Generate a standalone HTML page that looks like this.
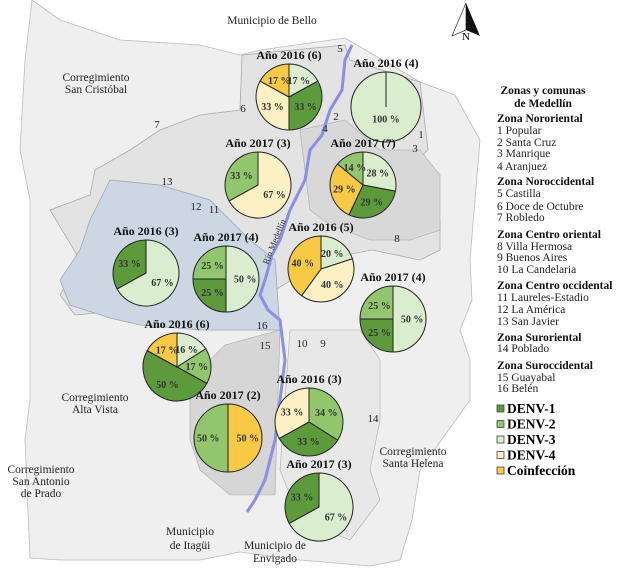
<!DOCTYPE html>
<html><head><meta charset="utf-8"><style>
html,body{margin:0;padding:0;background:#fff;}
svg{display:block;font-family:"Liberation Serif",serif;}
.t{font-weight:bold;font-size:12px;text-anchor:middle;fill:#111;}
.p{font-size:10px;font-weight:bold;text-anchor:middle;fill:#333;}
.l{font-size:11.5px;fill:#222;}
.lb{font-size:11.5px;font-weight:bold;fill:#111;}
.m{font-size:11.5px;fill:#222;text-anchor:middle;}
.n{font-size:11px;fill:#222;text-anchor:middle;}
</style></head><body>
<svg id="map" width="617" height="576" viewBox="0 0 617 576">
<rect width="617" height="576" fill="#fff"/>
<g>
<path d="M32,0 L60,20 L120,40 L200,45 L240,55 L260,50 L345,38 L420,82 L455,95 L480,140 L470,260 L472,300 L460,330 L470,360 L470,400 L420,470 L412,520 L400,560 L370,566 L300,560 L240,552 L200,560 L60,560 L30,558 L25,440 L30,400 L30,300 L30,200 L20,150 L25,60 Z" fill="#efefef" stroke="#bbb" stroke-width="0.8"/>
<path d="M242,55 L345,45 L350,60 L420,82 L428,150 L400,175 L440,220 L440,250 L420,260 L372,250 L320,260 L300,275 L275,290 L240,300 L200,305 L130,310 L75,315 L60,295 L80,260 L50,210 L90,195 L95,170 L130,150 L160,130 L200,115 L240,110 Z" fill="#e3e3e3" stroke="#aaa" stroke-width="0.8"/>
<path d="M300,130 L345,120 L380,150 L420,150 L440,175 L440,230 L410,240 L370,240 L330,225 L310,210 Z" fill="#d8d8d8" stroke="#aaa" stroke-width="0.6"/>
<path d="M110,180 L160,185 L210,200 L250,240 L275,260 L280,330 L200,330 L140,325 L110,318 L70,305 L60,280 L80,250 L90,220 Z" fill="#cdd6e3" stroke="#9aa6b8" stroke-width="0.8"/>
<path d="M190,395 L180,390 L225,345 L280,330 L275,495 L230,495 L200,470 L190,440 Z" fill="#d6d6d6" stroke="#aaa" stroke-width="0.6"/>
<path d="M290,330 L360,330 L380,360 L380,420 L370,470 L380,500 L350,540 L300,520 L280,470 L285,400 Z" fill="#e8e8e8" stroke="#aaa" stroke-width="0.6"/>
</g>
<polyline points="352,45 345,60 342,90 330,110 322,135 310,150 305,180 290,210 280,240 272,255 265,280 260,295 268,310 280,320 285,360 280,400 275,440 265,480 255,500 247,512" fill="none" stroke="#8a8ee8" stroke-width="3"/>
<text x="268" y="265" font-size="9" fill="#333" transform="rotate(-68 268 265)">Río Medellín</text>
<g>
<text class="m" x="272" y="24">Municipio de Bello</text>
<text class="m" x="96" y="81">Corregimiento</text><text class="m" x="96" y="93">San Cristóbal</text>
<text class="m" x="95" y="401">Corregimiento</text><text class="m" x="95" y="413">Alta Vista</text>
<text class="m" x="41" y="473">Corregimiento</text><text class="m" x="41" y="485">San Antonio</text><text class="m" x="41" y="497">de Prado</text>
<text class="m" x="190" y="535">Municipio</text><text class="m" x="190" y="549">de Itagüi</text>
<text class="m" x="275" y="549">Municipio de</text><text class="m" x="275" y="562">Envigado</text>
<text class="m" x="413" y="455">Corregimiento</text><text class="m" x="413" y="467">Santa Helena</text>
<text class="n" x="340" y="52">5</text><text class="n" x="243" y="112">6</text><text class="n" x="157" y="128">7</text>
<text class="n" x="336" y="120">2</text><text class="n" x="325" y="132">4</text><text class="n" x="421" y="138">1</text><text class="n" x="415" y="152">3</text>
<text class="n" x="167" y="185">13</text><text class="n" x="196" y="210">12</text><text class="n" x="214" y="213">11</text>
<text class="n" x="397" y="242">8</text><text class="n" x="262" y="329">16</text><text class="n" x="265" y="349">15</text>
<text class="n" x="302" y="347">10</text><text class="n" x="323" y="347">9</text><text class="n" x="373" y="422">14</text>
</g>
<g>
<polygon points="466,3 452,36 466,30" fill="#fff" stroke="#333" stroke-width="0.7"/>
<polygon points="466,3 480,36 466,30" fill="#111"/>
<text x="466" y="40" font-size="11" text-anchor="middle">N</text>
</g>
<g id="pies"></g>
<g>
<text class="lb" x="543" y="94" text-anchor="middle">Zonas y comunas</text>
<text class="lb" x="543" y="107" text-anchor="middle">de Medellín</text>
<text class="lb" x="497" y="122">Zona Nororiental</text>
<text class="l" x="497" y="134">1 Popular</text><text class="l" x="497" y="146">2 Santa Cruz</text><text class="l" x="497" y="157">3 Manrique</text><text class="l" x="497" y="170">4 Aranjuez</text>
<text class="lb" x="497" y="185">Zona Noroccidental</text>
<text class="l" x="497" y="197">5 Castilla</text><text class="l" x="497" y="210">6 Doce de Octubre</text><text class="l" x="497" y="221">7 Robledo</text>
<text class="lb" x="497" y="238">Zona Centro oriental</text>
<text class="l" x="497" y="250">8 Villa Hermosa</text><text class="l" x="497" y="261">9 Buenos Aires</text><text class="l" x="497" y="273">10 La Candelaria</text>
<text class="lb" x="497" y="289">Zona Centro occidental</text>
<text class="l" x="497" y="301">11 Laureles-Estadio</text><text class="l" x="497" y="313">12 La América</text><text class="l" x="497" y="325">13 San Javier</text>
<text class="lb" x="497" y="341">Zona Suroriental</text>
<text class="l" x="497" y="352">14 Poblado</text>
<text class="lb" x="497" y="369">Zona Suroccidental</text>
<text class="l" x="497" y="381">15 Guayabal</text><text class="l" x="497" y="392">16 Belén</text>
</g>
<g id="legend-series"></g>
</svg>
<script>
const series = ["DENV-1","DENV-2","DENV-3","DENV-4","Coinfección"];
const colors = ["#5c9a3c","#92c66e","#daedcf","#fdf0c4","#f8c944"];
const pieTitles = ["Año 2016 (6)","Año 2016 (4)","Año 2017 (3)","Año 2017 (7)","Año 2016 (3)","Año 2017 (4)","Año 2016 (5)","Año 2017 (4)","Año 2016 (6)","Año 2017 (2)","Año 2016 (3)","Año 2017 (3)"];
// slice order clockwise from 12 o'clock: [series index, percent]
const pieSeries = [[2,0,3,4],[2],[3,1],[2,0,4,1],[2,0],[2,0,1],[2,3,4],[2,0,1],[2,1,0,4],[4,1],[1,0,3],[2,0]];
const pieValues = [[17,33,33,17],[100],[67,33],[28,29,29,14],[67,33],[50,25,25],[20,40,40],[50,25,25],[16,17,50,17],[50,50],[34,33,33],[67,33]];
const pieCx = [289,386,258,363,146,226,321,393,177,228,309,319];
const pieCy = [97,107,185,185,273,279,269,319,367,438,422,507];
const pieR = [33,35,33,33,33,33,33,33,34,34,34,34];
const NS="http://www.w3.org/2000/svg";
const g=document.getElementById('pies');
function pt(cx,cy,r,a){return [cx+r*Math.sin(a),cy-r*Math.cos(a)];}
pieTitles.forEach((title,i)=>{
  const cx=pieCx[i],cy=pieCy[i],r=pieR[i];
  const pg=document.createElementNS(NS,'g');
  
  
  const tt=document.createElementNS(NS,'text');
  tt.setAttribute('class','t');tt.setAttribute('x',cx);tt.setAttribute('y',cy-r-5);tt.textContent=title;
  
  
  pg.appendChild(tt);
  const tot=pieValues[i].reduce((a,b)=>a+b,0);
  let a0=0;
  pieValues[i].forEach((v,j)=>{
    const a1=a0+v/tot*2*Math.PI;
    const col=colors[pieSeries[i][j]];
    let el;
    if(v>=tot){
      el=document.createElementNS(NS,'circle');el.setAttribute('cx',cx);el.setAttribute('cy',cy);el.setAttribute('r',r);
    } else {
      el=document.createElementNS(NS,'path');
      const p0=pt(cx,cy,r,a0),p1=pt(cx,cy,r,a1);
      el.setAttribute('d',`M${cx},${cy} L${p0[0]},${p0[1]} A${r},${r} 0 ${a1-a0>Math.PI?1:0} 1 ${p1[0]},${p1[1]} Z`);
    }
    el.setAttribute('fill',col);el.setAttribute('stroke','#222');el.setAttribute('stroke-width','1');
    
    
    pg.appendChild(el);
    const mid=(a0+a1)/2;
    const lp=v>=tot?[cx,cy+12]:pt(cx,cy,r*0.58,mid);
    const lt=document.createElementNS(NS,'text');
    lt.setAttribute('class','p');lt.setAttribute('x',lp[0]);lt.setAttribute('y',lp[1]+3.5);lt.textContent=v+' %';
    
    
    pg.appendChild(lt);
    a0=a1;
  });
  if(pieValues[i].length===1){
    const ln=document.createElementNS(NS,'line');
    ln.setAttribute('x1',cx);ln.setAttribute('y1',cy-r);ln.setAttribute('x2',cx);ln.setAttribute('y2',cy);ln.setAttribute('stroke','#222');
    pg.appendChild(ln);
  }
  g.appendChild(pg);
});
const lg=document.getElementById('legend-series');
series.forEach((s,k)=>{
  const y=405+k*15.5;
  const r=document.createElementNS(NS,'rect');
  r.setAttribute('x',497);r.setAttribute('y',y);r.setAttribute('width',7);r.setAttribute('height',7);
  r.setAttribute('fill',colors[k]);r.setAttribute('stroke','#444');r.setAttribute('stroke-width','0.8');
  
  
  lg.appendChild(r);
  const t=document.createElementNS(NS,'text');
  t.setAttribute('x',507);t.setAttribute('y',y+8);t.setAttribute('font-size','13.5');t.setAttribute('font-weight','bold');t.textContent=s;
  
  
  lg.appendChild(t);
});
</script>
</body></html>
